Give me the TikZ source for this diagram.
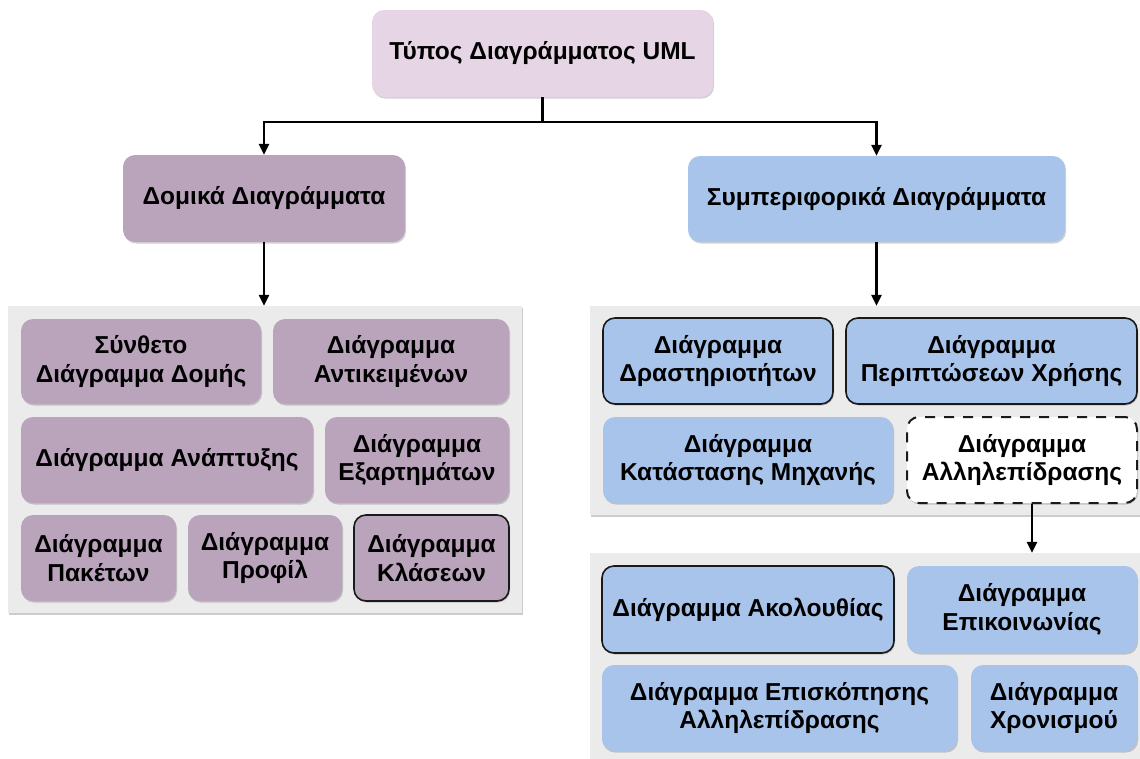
\documentclass[tikz,border=0pt]{standalone}
\usepackage{fontspec}
\setmainfont{Liberation Sans}
\usetikzlibrary{arrows.meta,shadows}
\definecolor{toplav}{HTML}{E6D5E5}
\definecolor{purp}{HTML}{BAA4BC}
\definecolor{bluebx}{HTML}{A8C4EA}
\definecolor{panelg}{HTML}{EBEBEB}
\definecolor{edge}{HTML}{1A1A1A}
\tikzset{
  box/.style={rounded corners=12pt, align=center, inner sep=2pt,
    font=\fontsize{24.5}{28.5}\selectfont\bfseries,
    drop shadow={shadow xshift=1pt,shadow yshift=-1.5pt,fill=black,opacity=0.18}},
  lavbox/.style={box, fill=toplav},
  purbox/.style={box, fill=purp},
  blubox/.style={box, fill=bluebx},
  hilite/.style={draw=edge, line width=1.6pt},
  dashbox/.style={box, fill=white, draw=edge, line width=2pt, dash pattern=on 10pt off 9pt},
  panel/.style={fill=panelg, inner sep=0pt,
    drop shadow={shadow xshift=1pt,shadow yshift=-1.5pt,fill=black,opacity=0.2}},
  conn/.style={line width=2.4pt, draw=black},
  arr/.style={conn, -{Triangle[length=11pt,width=10pt]}},
}
\begin{document}
\begin{tikzpicture}[x=1pt,y=-1pt]
\useasboundingbox (0,0) rectangle (1140,758);
\clip (0,0) rectangle (1140,758);
% panels
\node[panel, minimum width=514, minimum height=307] (lpanel) at (265,459.5) {};
\node[panel, minimum width=560, minimum height=209] (rpanel) at (870,410.5) {};
\node[panel, minimum width=560, minimum height=215] (lowpanel) at (870,660.5) {};
% top level
\node[lavbox, minimum width=341, minimum height=87] (top) at (542.5,53.5) {Τύπος Διαγράμματος UML};
\node[purbox, minimum width=282, minimum height=87] (dom) at (264,198.5) {Δομικά Διαγράμματα};
\node[blubox, minimum width=377, minimum height=86] (sym) at (876.5,199) {Συμπεριφορικά Διαγράμματα};
% structural
\node[purbox, minimum width=240, minimum height=85] (syn) at (141,361.5) {Σύνθετο\\Διάγραμμα Δομής};
\node[purbox, minimum width=236, minimum height=85] (ant) at (391,361.5) {Διάγραμμα\\Αντικειμένων};
\node[purbox, minimum width=292, minimum height=86] (ana) at (167,460) {Διάγραμμα Ανάπτυξης};
\node[purbox, minimum width=184, minimum height=86] (exa) at (417,460) {Διάγραμμα\\Εξαρτημάτων};
\node[purbox, minimum width=155, minimum height=86] (pak) at (98.5,558) {Διάγραμμα\\Πακέτων};
\node[purbox, minimum width=154, minimum height=86] (pro) at (265,558) {Διάγραμμα\\Προφίλ};
\node[purbox, hilite, minimum width=155, minimum height=86] (kla) at (431.5,558) {Διάγραμμα\\Κλάσεων};
% behavioural
\node[blubox, hilite, minimum width=230, minimum height=86] (dra) at (718,361) {Διάγραμμα\\Δραστηριοτήτων};
\node[blubox, hilite, minimum width=291, minimum height=86] (per) at (991.5,361) {Διάγραμμα\\Περιπτώσεων Χρήσης};
\node[blubox, minimum width=290, minimum height=86] (kat) at (748,460) {Διάγραμμα\\Κατάστασης Μηχανής};
\node[dashbox, minimum width=230, minimum height=86] (all) at (1022,460) {Διάγραμμα\\Αλληλεπίδρασης};
% interaction
\node[blubox, hilite, minimum width=292, minimum height=87] (ako) at (748,609.5) {Διάγραμμα Ακολουθίας};
\node[blubox, minimum width=230, minimum height=87] (epi) at (1022,609.5) {Διάγραμμα\\Επικοινωνίας};
\node[blubox, minimum width=355, minimum height=86] (eps) at (779.5,708) {Διάγραμμα Επισκόπησης\\Αλληλεπίδρασης};
\node[blubox, minimum width=166, minimum height=86] (xro) at (1054,708) {Διάγραμμα\\Χρονισμού};
% connectors
\draw[arr] (top.south) -- ++(0,25) -| (dom.north);
\draw[arr] (top.south) -- ++(0,25) -| (sym.north);
\draw[arr] (dom.south) -- (dom.south |- lpanel.north);
\draw[arr] (sym.south) -- (sym.south |- rpanel.north);
\draw[arr] ([xshift=10pt]all.south) -- ([xshift=10pt]all.south |- lowpanel.north);
\end{tikzpicture}
\end{document}
